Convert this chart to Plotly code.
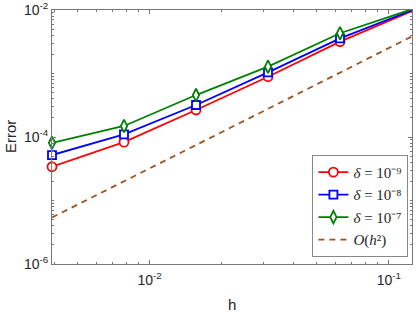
import plotly.graph_objects as go
import numpy as np

h = [1/256, 1/128, 1/64, 1/32, 1/16, 1/8]
err_d9 = [3.4e-5, 8.3e-5, 2.66e-4, 8.9e-4, 3.17e-3, 9.6e-3]
err_d8 = [5.2e-5, 1.10e-4, 3.19e-4, 1.04e-3, 3.58e-3, 9.9e-3]
err_d7 = [8.1e-5, 1.49e-4, 4.58e-4, 1.28e-3, 4.3e-3, 1.03e-2]
ref_h2 = [5.4e-6, 2.0e-5, 7.45e-5, 2.77e-4, 1.03e-3, 3.84e-3]

names = ["<i>δ</i> = 10⁻⁹", "<i>δ</i> = 10⁻⁸", "<i>δ</i> = 10⁻⁷"]
ref_name = "<i>O</i>(<i>h</i>²)"

x_major = [1e-2, 1e-1]
x_major_text = ["10<sup>-2</sup>", "10<sup>-1</sup>"]
y_major = [1e-6, 1e-4, 1e-2]
y_major_text = ["10<sup>-6</sup>", "10<sup>-4</sup>", "10<sup>-2</sup>"]

x_minor = [k * 10.0**e for e in (-3, -2, -1) for k in range(1, 10)]
y_minor = [k * 10.0**e for e in (-6, -5, -4, -3) for k in range(1, 10)]

fig = go.Figure()
styles = [("#FF0000", "circle", 9), ("#0000FF", "square", 8), ("#008000", "diamond-tall", 9)]
for ys, nm, (c, sym, sz) in zip([err_d9, err_d8, err_d7], names, styles):
    fig.add_trace(go.Scatter(
        x=h, y=ys, name=nm, mode="lines+markers",
        line=dict(color=c, width=1.8),
        marker=dict(symbol=sym, size=sz, color="white", line=dict(color=c, width=1.8)),
        cliponaxis=False,
    ))
fig.add_trace(go.Scatter(
    x=h, y=ref_h2, name=ref_name, mode="lines",
    line=dict(color="rgb(160,82,30)", width=1.8, dash="6px,5px"),
))

L, R, T, B = 52, 412, 10, 264
W, H = 416, 312

axis_common = dict(
    type="log", showgrid=False, zeroline=False, automargin=False,
    showline=True, linecolor="#777", linewidth=1, mirror="ticks",
    ticks="inside", ticklen=4, tickcolor="#777", tickwidth=1,
    tickfont=dict(family="Liberation Sans, Arial", size=14, color="#262626"),
)

fig.update_layout(
    width=W, height=H,
    margin=dict(l=L, r=W - R, t=T, b=H - B),
    paper_bgcolor="white", plot_bgcolor="white",
    showlegend=True,
    legend=dict(
        x=0.99, y=0.028, xanchor="right", yanchor="bottom",
        bgcolor="white", bordercolor="#888", borderwidth=1,
        font=dict(family="Liberation Serif, Times New Roman", size=15, color="#262626"),
        tracegroupgap=0, itemwidth=30,
    ),
    xaxis=dict(
        **axis_common,
        range=[np.log10(1/256), np.log10(1/8)],
        tickmode="array", tickvals=x_major, ticktext=x_major_text,
        ticklabelstandoff=3,
        minor=dict(tickmode="array", tickvals=x_minor, ticks="inside", ticklen=2, tickcolor="#777"),
    ),
    yaxis=dict(
        **axis_common,
        range=[-6, -2],
        tickmode="array", tickvals=y_major, ticktext=y_major_text,
        minor=dict(tickmode="array", tickvals=y_minor, ticks="inside", ticklen=2, tickcolor="#777"),
    ),
    annotations=[
        dict(text="Error", xref="paper", yref="paper",
             x=(10 - L) / (R - L), y=(B - 137) / (B - T), textangle=-90,
             showarrow=False, xanchor="center", yanchor="middle",
             font=dict(family="Liberation Sans, Arial", size=15, color="#262626")),
        dict(text="h", xref="paper", yref="paper",
             x=(232 - L) / (R - L), y=(B - 304) / (B - T),
             showarrow=False, xanchor="center", yanchor="middle",
             font=dict(family="Liberation Sans, Arial", size=15, color="#262626")),
    ],
)

fig.write_html("out.html", config={"displayModeBar": False},
               post_script="document.body.style.margin='0';document.body.style.padding='0';")
